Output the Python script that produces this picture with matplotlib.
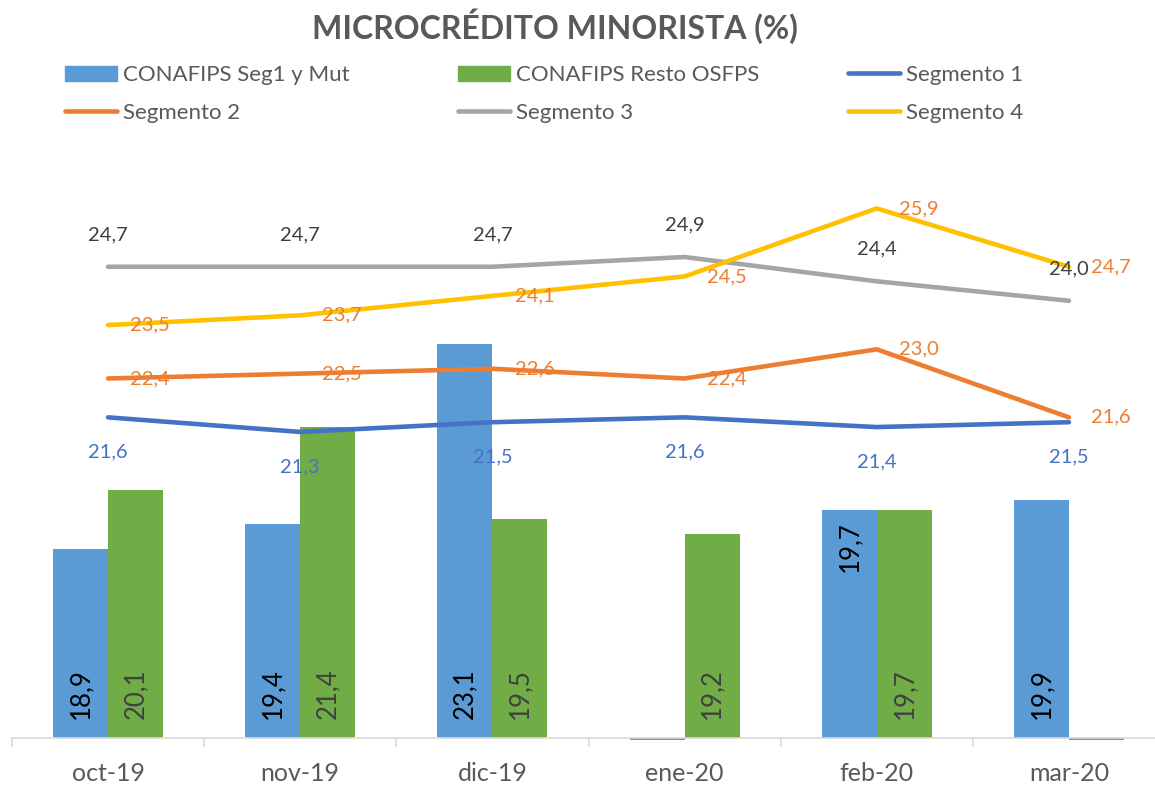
import numpy as np
import matplotlib
matplotlib.use('Agg')
import matplotlib.pyplot as plt
from matplotlib.patches import Patch
from matplotlib.lines import Line2D

plt.rcParams['font.family'] = ['Lato', 'DejaVu Sans']

# --- data ---
months = ['oct-19', 'nov-19', 'dic-19', 'ene-20', 'feb-20', 'mar-20']
conafips_seg1 = [18.9, 19.4, 23.1, 0.0, 19.7, 19.9]
conafips_resto = [20.1, 21.4, 19.5, 19.2, 19.7, 0.0]
segmento_1 = [21.6, 21.3, 21.5, 21.6, 21.4, 21.5]
segmento_2 = [22.4, 22.5, 22.6, 22.4, 23.0, 21.6]
segmento_3 = [24.7, 24.7, 24.7, 24.9, 24.4, 24.0]
segmento_4 = [23.5, 23.7, 24.1, 24.5, 25.9, 24.7]

BLUE_BAR, GREEN_BAR = '#5B9BD5', '#70AD47'
C_SEG1, C_SEG2, C_SEG3, C_SEG4 = '#4472C4', '#ED7D31', '#A5A5A5', '#FFC000'
TXT = '#595959'

W, H = 1155, 788
YMIN, YMAX = 15, 27
LW = 3.3


def fmt(v):
    return f'{v:.1f}'.replace('.', ',')


fig = plt.figure(figsize=(W / 100, H / 100), dpi=100)
ax = fig.add_axes([12 / W, 50 / H, 1153 / W, 583 / H])
ax.set_xlim(-0.5, 5.5)
ax.set_ylim(YMIN, YMAX)

x = np.arange(len(months))
bw = 0.286

# bars (zero values show only as a thin sliver below the axis, like Excel)
for vals, off, col, lab_col, name in [
        (conafips_seg1, -bw / 2, BLUE_BAR, '#000000', 'seg1'),
        (conafips_resto, bw / 2, GREEN_BAR, '#404040', 'resto')]:
    for i, v in enumerate(vals):
        h = v - YMIN if v > YMIN else -0.04
        ax.bar(x[i] + off, h, bottom=YMIN, width=bw, color=col,
               clip_on=False, zorder=2)
        if v <= YMIN:
            continue
        if name == 'seg1' and months[i] == 'feb-20':
            ax.annotate(fmt(v), (x[i] + off, v), xytext=(0, -8),
                        textcoords='offset points', rotation=90,
                        ha='center', va='top', fontsize=18.5, color=lab_col,
                        zorder=5)
        else:
            ax.annotate(fmt(v), (x[i] + off, YMIN), xytext=(0, 14),
                        textcoords='offset points', rotation=90,
                        ha='center', va='bottom', fontsize=18.5,
                        color=lab_col, zorder=5)

# lines
for vals, col in [(segmento_1, C_SEG1), (segmento_2, C_SEG2),
                  (segmento_3, C_SEG3), (segmento_4, C_SEG4)]:
    ax.plot(x, vals, color=col, lw=LW, solid_capstyle='round',
            solid_joinstyle='round', zorder=3)

# line data labels
for i in x:
    ax.annotate(fmt(segmento_3[i]), (i, segmento_3[i]), xytext=(0, 23),
                textcoords='offset points', ha='center', va='center',
                fontsize=14.5, color='#404040', zorder=6)
    ax.annotate(fmt(segmento_1[i]), (i, segmento_1[i]), xytext=(0, -25),
                textcoords='offset points', ha='center', va='center',
                fontsize=14.5, color=C_SEG1, zorder=6)
    for vals in (segmento_2, segmento_4):
        ax.annotate(fmt(vals[i]), (i, vals[i]), xytext=(16, 0),
                    textcoords='offset points', ha='left', va='center',
                    fontsize=14.5, color=C_SEG2, zorder=6)

# axes styling
for s in ['left', 'right', 'top']:
    ax.spines[s].set_visible(False)
ax.spines['bottom'].set_color('#D9D9D9')
ax.spines['bottom'].set_linewidth(1.2)
ax.set_yticks([])
ax.set_xticks(x, months)
ax.set_xticks(np.arange(-0.5, 6, 1), minor=True)
ax.tick_params(axis='x', which='major', length=0, pad=17.5, labelsize=18,
               labelcolor=TXT)
ax.tick_params(axis='x', which='minor', length=6.5, width=1.2,
               color='#D9D9D9', direction='out')

# title
fig.text(555 / W, 1 - 26 / H, 'MICROCRÉDITO MINORISTA (%)', ha='center',
         va='center', fontsize=23, fontweight='bold', color=TXT)

# legend: three columns, each a small legend
cols = [
    (65, [Patch(color=BLUE_BAR),
          Line2D([], [], color=C_SEG2, lw=LW, solid_capstyle='round')],
     ['CONAFIPS Seg1 y Mut', 'Segmento 2']),
    (458, [Patch(color=GREEN_BAR),
           Line2D([], [], color=C_SEG3, lw=LW, solid_capstyle='round')],
     ['CONAFIPS Resto OSFPS', 'Segmento 3']),
    (848, [Line2D([], [], color=C_SEG1, lw=LW, solid_capstyle='round'),
           Line2D([], [], color=C_SEG4, lw=LW, solid_capstyle='round')],
     ['Segmento 1', 'Segmento 4']),
]
for x0, hs, ls in cols:
    fig.legend(hs, ls, loc='upper left', bbox_to_anchor=(x0 / W, 1 - 65 / H),
               frameon=False, borderpad=0, borderaxespad=0, handlelength=2.35,
               handleheight=0.65, handletextpad=0.27, labelspacing=0.8,
               fontsize=16, labelcolor=TXT)

fig.savefig('out.png', dpi=100)
